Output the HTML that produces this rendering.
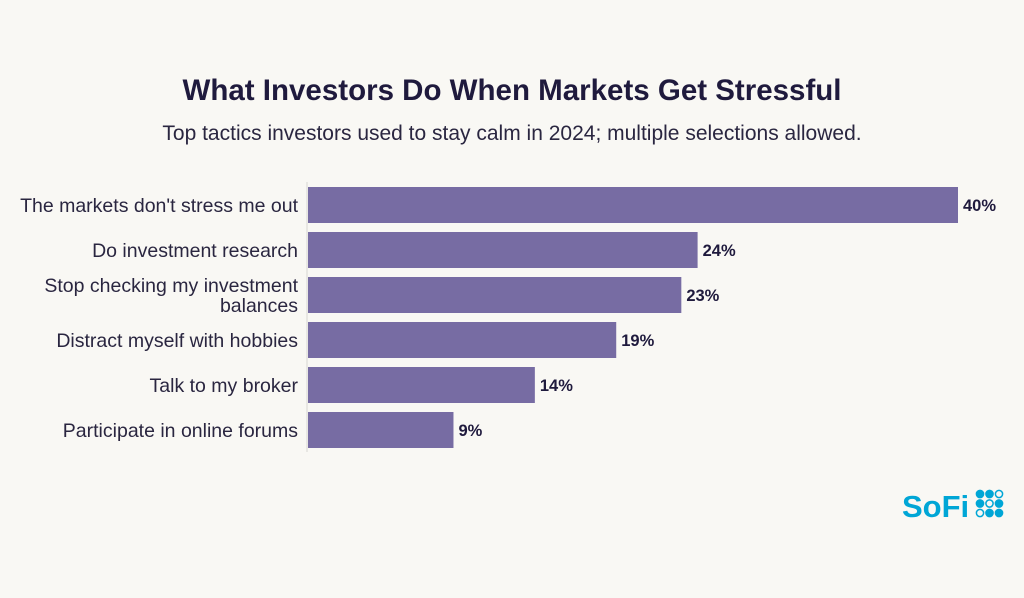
<!DOCTYPE html>
<html><head><meta charset="utf-8"><style>
body{margin:0;background:#f9f8f4;width:1024px;height:593px;overflow:hidden;font-family:"Liberation Sans",sans-serif}
</style></head><body>
<svg width="1024" height="593" viewBox="0 0 1024 593">
<rect width="1024" height="593" fill="#f9f8f4"/>
<text x="512" y="100" text-anchor="middle" font-size="29.5" font-weight="bold" fill="#1f1a3d">What Investors Do When Markets Get Stressful</text>
<text x="512" y="140" text-anchor="middle" font-size="21" fill="#2a2640">Top tactics investors used to stay calm in 2024; multiple selections allowed.</text>
<line x1="307" y1="182" x2="307" y2="452" stroke="#d8d6d2" stroke-width="1"/>
<g id="bars"></g>
<g>
<text x="902" y="517" font-size="31" font-weight="bold" fill="#00a6d6">SoFi</text>
<g id="dots" fill="#00a6d6" stroke="#00a6d6" stroke-width="1.5"></g>
</g>
</svg>
<script>
const categories=["The markets don't stress me out","Do investment research","Stop checking my investment|balances","Distract myself with hobbies","Talk to my broker","Participate in online forums"];
const values=[40,24,23,19,14,9];
const valueLabels=["40%","24%","23%","19%","14%","9%"];
const NS="http://www.w3.org/2000/svg";
const x0=307,pxPer=651/40,top0=187,pitch=45,bh=36;
const xs=v=>x0+v*pxPer;
const g=document.getElementById('bars');
values.forEach((v,i)=>{
  const y=top0+i*pitch;
  const r=document.createElementNS(NS,'rect');
  r.setAttribute('x',x0+1);r.setAttribute('y',y);r.setAttribute('width',xs(v)-x0-1);r.setAttribute('height',bh);r.setAttribute('fill','#776ca3');
  
  
  g.appendChild(r);
  const t=document.createElementNS(NS,'text');
  t.setAttribute('x',xs(v)+5);t.setAttribute('y',y+bh/2+6);t.setAttribute('font-size','16.5');t.setAttribute('font-weight','bold');t.setAttribute('fill','#1f1a3d');
  t.textContent=valueLabels[i];
  
  
  g.appendChild(t);
  const lines=categories[i].split('|');
  lines.forEach((ln,j)=>{
    const c=document.createElementNS(NS,'text');
    const cy=y+bh/2+7+(j-(lines.length-1)/2)*20;
    c.setAttribute('x',298);c.setAttribute('y',cy);c.setAttribute('text-anchor','end');c.setAttribute('font-size','19.5');c.setAttribute('fill','#2a2640');
    c.textContent=ln;
    
    
    g.appendChild(c);
  });
});
const pattern=[[1,1,0],[1,0,1],[0,1,1]];
const d=document.getElementById('dots');
pattern.forEach((row,r)=>row.forEach((f,c)=>{
  const ci=document.createElementNS(NS,'circle');
  ci.setAttribute('cx',980+c*9.5);ci.setAttribute('cy',494+r*9.5);ci.setAttribute('r',3.6);
  ci.setAttribute('fill',f?'#00a6d6':'none');
  
  
  d.appendChild(ci);
}));
</script>
</body></html>
